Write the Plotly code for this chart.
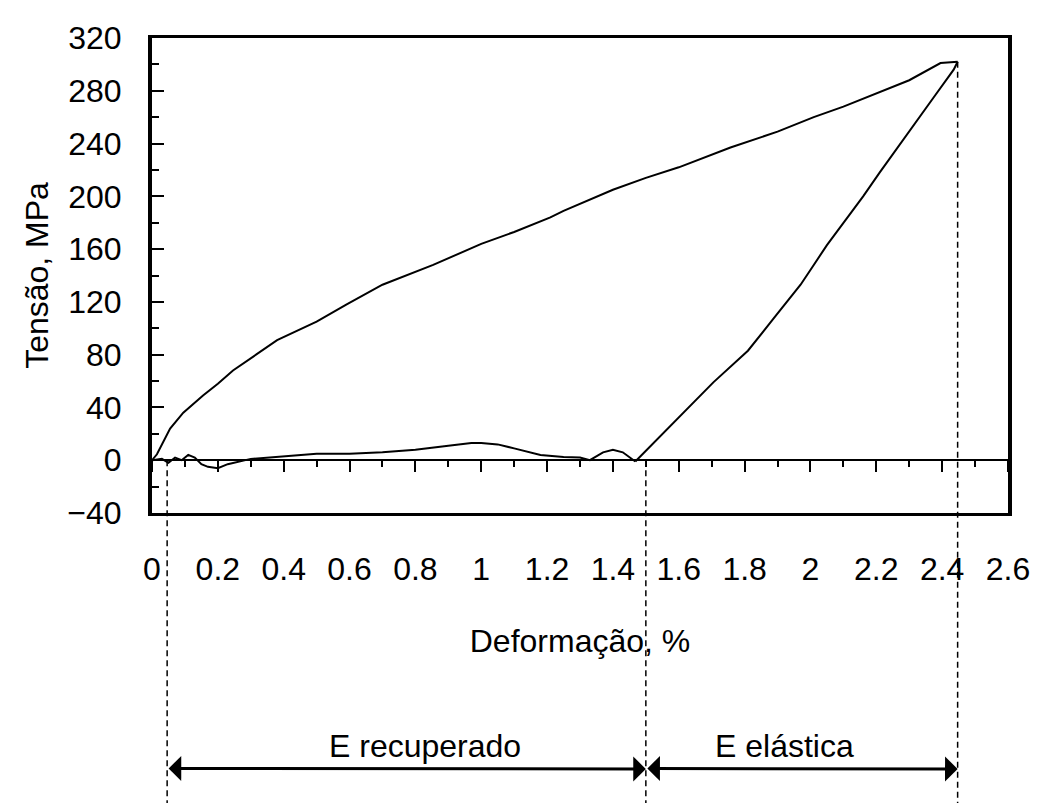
import plotly.graph_objects as go

# ---- data ----
loading_x = [0.0, 0.015, 0.055, 0.095, 0.155, 0.20, 0.246, 0.298, 0.38, 0.50, 0.59, 0.70,
             0.854, 1.0, 1.10, 1.21, 1.25, 1.40, 1.50, 1.60, 1.757, 1.90, 2.01, 2.10,
             2.21, 2.30, 2.395, 2.447]
loading_y = [0, 4.5, 24, 36, 49, 58, 68, 77, 91, 105, 118, 133,
             148, 164, 173, 184, 189, 205, 214, 222, 237, 249, 260, 268,
             279, 288, 301, 302]

unloading_x = [2.447, 2.435, 2.38, 2.313, 2.25, 2.21, 2.16, 2.10, 2.05, 2.01, 1.97,
               1.89, 1.81, 1.705, 1.626, 1.544, 1.468]
unloading_y = [302, 296, 277, 254, 232, 218, 200, 180, 163, 148, 133,
               108, 83, 59, 39, 19, -1]

residual_x = [1.468, 1.43, 1.40, 1.37, 1.33, 1.30, 1.25, 1.18, 1.10, 1.05, 1.0, 0.97,
              0.90, 0.80, 0.70, 0.60, 0.50, 0.40, 0.30, 0.23, 0.20, 0.17, 0.15, 0.13,
              0.11, 0.09, 0.07, 0.05, 0.03, 0.0]
residual_y = [-1, 6, 8, 6, 0, 2, 2.5, 4, 9, 12, 13, 13,
              11, 8, 6, 5, 5, 3, 1, -3, -6, -5, -3, 2,
              4, 0, 2, -2, 1, 0]

x_ticks = [0, 0.2, 0.4, 0.6, 0.8, 1, 1.2, 1.4, 1.6, 1.8, 2, 2.2, 2.4, 2.6]
y_ticks = [-40, 0, 40, 80, 120, 160, 200, 240, 280, 320]

# guide lines: (x position, stress where the dashed line starts)
guide_x = [0.046, 1.5, 2.447]
guide_top = [0, 0, 302]

spans = [(0.046, 1.5, "E recuperado", 0.83), (1.5, 2.447, "E elástica", 1.92)]

x_range = [0, 2.6]
y_range = [-40, 320]

FONT = "Liberation Sans, Arial, sans-serif"
FS = 32

fig = go.Figure()
fig.add_trace(go.Scatter(x=loading_x, y=loading_y, mode="lines",
                         line=dict(color="black", width=2), showlegend=False))
fig.add_trace(go.Scatter(x=unloading_x, y=unloading_y, mode="lines",
                         line=dict(color="black", width=2), showlegend=False))
fig.add_trace(go.Scatter(x=residual_x, y=residual_y, mode="lines", xaxis="x2",
                         line=dict(color="black", width=2), showlegend=False))

zero_frac = (0 - y_range[0]) / (y_range[1] - y_range[0])

# the page body adds an 8px offset, so the figure is 8px smaller and margins shifted
fig.update_layout(
    width=1034, height=795,
    margin=dict(l=144, r=33, t=20, b=290),
    paper_bgcolor="white", plot_bgcolor="white",
    font=dict(family=FONT, size=FS, color="black"),
    xaxis=dict(range=x_range, tickmode="array", tickvals=x_ticks,
               ticks="", showgrid=False, zeroline=False,
               showline=True, linecolor="black", linewidth=3, mirror=True,
               ticklabelstandoff=26,
               title=dict(text="Deformação, %", standoff=44,
                          font=dict(family=FONT, size=FS))),
    xaxis2=dict(range=x_range, overlaying="x", anchor="free", position=zero_frac,
                side="bottom", showticklabels=False, showgrid=False, zeroline=False,
                showline=False, ticks="outside", tickmode="linear", tick0=0, dtick=0.2,
                ticklen=11, tickwidth=2, tickcolor="black",
                minor=dict(ticks="outside", dtick=0.1, ticklen=6, tickwidth=2,
                           tickcolor="black")),
    yaxis=dict(range=y_range, tickmode="array", tickvals=y_ticks,
               ticks="inside", ticklen=12, tickwidth=2, tickcolor="black",
               minor=dict(ticks="inside", dtick=20, ticklen=7, tickwidth=2,
                          tickcolor="black"),
               showgrid=False, zeroline=True, zerolinecolor="black", zerolinewidth=2,
               showline=True, linecolor="black", linewidth=4, mirror=True,
               ticklabelstandoff=20,
               title=dict(text="Tensão, MPa", standoff=10,
                          font=dict(family=FONT, size=FS))),
)

# dashed guide lines extending below the plot
bottom_paper = -0.62
for gx, gt in zip(guide_x, guide_top):
    top_paper = (gt - y_range[0]) / (y_range[1] - y_range[0])
    fig.add_shape(type="line", xref="x", yref="paper", x0=gx, x1=gx,
                  y0=top_paper, y1=bottom_paper,
                  line=dict(color="black", width=1.5, dash="6px,4px"))

# double-headed arrows with labels
arrow_y = -0.539
label_y = -0.532
for x0, x1, label, lx in spans:
    fig.add_annotation(x=x1, y=arrow_y, xref="x", yref="paper",
                       ax=x0, ay=arrow_y, axref="x", ayref="pixel",
                       showarrow=True, arrowhead=1, startarrowhead=1,
                       arrowside="end+start", arrowwidth=3, arrowsize=1.4,
                       startarrowsize=1.4, arrowcolor="black", standoff=0,
                       startstandoff=0, text="")
    fig.add_annotation(x=lx, y=label_y, xref="x", yref="paper", text=label,
                       showarrow=False, yanchor="bottom",
                       font=dict(family=FONT, size=FS, color="black"))

fig.write_html("out.html")
